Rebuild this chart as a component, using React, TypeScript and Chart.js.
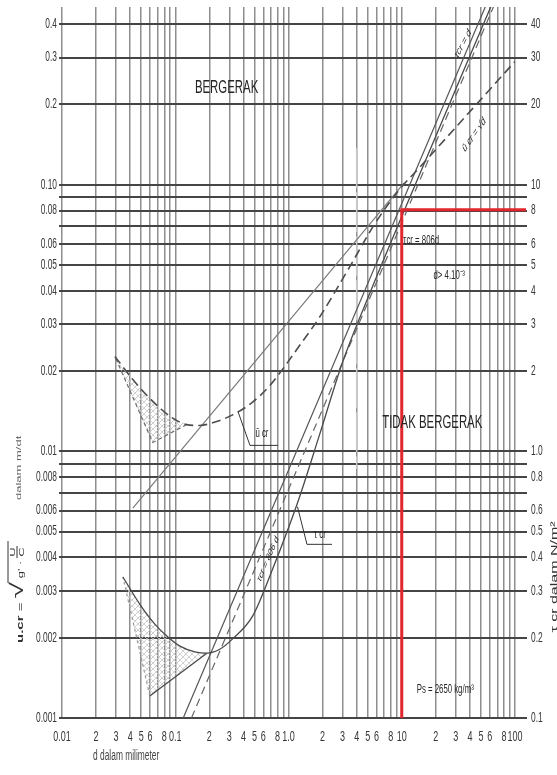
import React, { useEffect, useRef } from "react";
import { Chart, registerables } from "chart.js";
Chart.register(...registerables);

// ---------- axes ----------
const X_MIN = 0.01;
const X_MAX = 100;
const Y_MIN = 0.001; // u*cr in m/s (left axis)
const Y_MAX = 0.464;
const TAU_FACTOR = 100; // right axis (tau cr, N/m2) = left axis x 100 on this chart

const X_TICK_VALUES = [
  0.01, 0.02, 0.03, 0.04, 0.05, 0.06, 0.07, 0.08, 0.09,
  0.1, 0.2, 0.3, 0.4, 0.5, 0.6, 0.7, 0.8, 0.9,
  1, 2, 3, 4, 5, 6, 7, 8, 9,
  10, 20, 30, 40, 50, 60, 70, 80, 90, 100,
];
const X_TICK_LABELS = [
  "0.01", "2", "3", "4", "5", "6", "", "8", "",
  "0.1", "2", "3", "4", "5", "6", "", "8", "",
  "1.0", "2", "3", "4", "5", "6", "", "8", "",
  "10", "2", "3", "4", "5", "6", "", "8", "", "100",
];
const Y_TICK_VALUES = [
  0.001, 0.002, 0.003, 0.004, 0.005, 0.006, 0.007, 0.008, 0.009,
  0.01, 0.02, 0.03, 0.04, 0.05, 0.06, 0.07, 0.08, 0.09,
  0.1, 0.2, 0.3, 0.4,
];
const Y_TICK_LABELS = [
  "0.001", "0.002", "0.003", "0.004", "0.005", "0.006", "", "0.008", "",
  "0.01", "0.02", "0.03", "0.04", "0.05", "0.06", "", "0.08", "",
  "0.10", "0.2", "0.3", "0.4",
];
const YR_TICK_LABELS = [
  "0.1", "0.2", "0.3", "0.4", "0.5", "0.6", "", "0.8", "",
  "1.0", "2", "3", "4", "5", "6", "", "8", "",
  "10", "20", "30", "40",
];

// ---------- u*cr (left axis, m/s) ----------
const U_CURVE_D = [0.0293, 0.0422, 0.0633, 0.0932, 0.126, 0.164, 0.214, 0.321, 0.482, 0.68, 0.885, 1.3, 1.875, 3.44, 5.72, 9.51, 14.3, 100];
const U_CURVE_V = [0.0227, 0.0186, 0.0154, 0.0134, 0.0126, 0.0125, 0.0128, 0.0137, 0.0153, 0.0176, 0.0203, 0.0255, 0.0318, 0.0489, 0.0708, 0.0958, 0.1158, 0.29];
const U_HATCH_D = [0.0293, 0.0422, 0.0633, 0.0932, 0.126, 0.0633, 0.0293];
const U_HATCH_V = [0.0227, 0.0186, 0.0154, 0.0134, 0.0126, 0.0108, 0.0227];
const U_EDGE_D = [0.126, 0.0633, 0.0293];
const U_EDGE_V = [0.0126, 0.0108, 0.0227];
const LINE_A_D = [0.0422, 10.5];
const LINE_A_V = [0.00612, 0.1017];
const U_LEADER_D = [0.358, 0.457, 0.807];
const U_LEADER_V = [0.0141, 0.01053, 0.01053];

// ---------- tau cr (right axis, N/m2) ----------
const TAU_CURVE_D = [0.0345, 0.0487, 0.066, 0.0842, 0.11, 0.149, 0.19, 0.247, 0.321, 0.482, 0.72, 1.2, 1.875, 2.99, 5.2, 10, 65];
const TAU_CURVE_V = [0.338, 0.267, 0.225, 0.203, 0.186, 0.177, 0.175, 0.181, 0.198, 0.241, 0.36, 0.64, 1.15, 2.15, 3.9, 7.6, 49.4];
const TAU_HATCH_D = [0.0345, 0.0487, 0.066, 0.0842, 0.11, 0.149, 0.19, 0.0596, 0.0345];
const TAU_HATCH_V = [0.338, 0.267, 0.225, 0.203, 0.186, 0.177, 0.175, 0.121, 0.338];
const TAU_EDGE_LOW_D = [0.0596, 0.19];
const TAU_EDGE_LOW_V = [0.121, 0.175];
const TAU_EDGE_LEFT_D = [0.0596, 0.0345];
const TAU_EDGE_LEFT_V = [0.121, 0.338];
const TAU_806_D = [0.1176, 60];
const TAU_806_V = [0.1, 51];
const TAU_DASH_D = [0.139, 70];
const TAU_DASH_V = [0.1, 50.4];
const TAU_LEADER_D = [1.2, 1.456, 2.42];
const TAU_LEADER_V = [0.62, 0.448, 0.448];
const RED_D = [10, 10, 125];
const RED_V = [0.1, 8.06, 8.06];
const D4_D = [4, 4];
const D4_V = [0.137, 0.0086];

// ---------- annotations (d in mm, value on left axis) ----------
const NOTE_TEXT = ["BERGERAK", "TIDAK BERGERAK", "\u03C4cr = 806d", "d> 4.10\u207B\u00B3", "Ps = 2650 kg/m\u00B3", "\u03C4cr = d", "\u016B cr = \u221Ad", "\u03C4cr = 806 d", "\u016B cr", "\u03C4 cr"];
const NOTE_D = [0.284, 18.6, 14.86, 26.2, 24.2, 34.7, 43.5, 0.659, 0.583, 1.897];
const NOTE_V = [0.231, 0.01285, 0.0617, 0.0456, 0.001285, 0.3373, 0.1539, 0.00394, 0.01168, 0.00489];
const NOTE_SIZE = [19, 19, 13, 13, 13, 12, 12, 11, 13, 13];
const NOTE_ROT = [0, 0, 0, 0, 0, -62, -55, -67, 0, 0];

const FONT = "'Liberation Sans', Arial, sans-serif";
const SQ = 0.6;
const TICK_COLOR = "#363636";
const TEXT_COLOR = "#262626";

const pts = (xs: number[], ys: number[]) => xs.map((x, i) => ({ x, y: ys[i] }));

function drawText(ctx: CanvasRenderingContext2D, text: string, x: number, y: number, o: any = {}) {
  const size = o.size ?? 13;
  const phi = ((o.rot ?? 0) * Math.PI) / 180;
  ctx.save();
  ctx.translate(x, y);
  ctx.scale(SQ, 1);
  ctx.rotate(Math.atan2(SQ * Math.sin(phi), Math.cos(phi)));
  ctx.font = `${o.weight ?? "normal"} ${size}px ${FONT}`;
  ctx.fillStyle = o.color ?? TEXT_COLOR;
  ctx.textAlign = o.align ?? "center";
  ctx.textBaseline = o.baseline ?? "middle";
  ctx.fillText(text, 0, 0);
  ctx.restore();
}

function textWidth(ctx: CanvasRenderingContext2D, text: string, size: number, weight = "normal") {
  ctx.save();
  ctx.font = `${weight} ${size}px ${FONT}`;
  const w = ctx.measureText(text).width;
  ctx.restore();
  return w;
}

function makeHatch() {
  const c = document.createElement("canvas");
  c.width = 6;
  c.height = 6;
  const g = c.getContext("2d")!;
  g.strokeStyle = "#bdbdbd";
  g.lineWidth = 0.8;
  g.beginPath();
  g.moveTo(0, 6);
  g.lineTo(6, 0);
  g.stroke();
  g.beginPath();
  g.moveTo(0, 0);
  g.lineTo(6, 6);
  g.strokeStyle = "#d0d0d0";
  g.stroke();
  return g.createPattern(c, "repeat");
}

const textPlugin = {
  id: "textPlugin",
  afterDatasetsDraw(chart: any) {
    const { ctx, chartArea, scales } = chart;
    const sx = scales.x;
    const sy = scales.y;
    const sr = scales.yR;
    // tick labels
    sx.ticks.forEach((t: any, i: number) => {
      const lab = X_TICK_LABELS[i];
      if (lab) drawText(ctx, lab, sx.getPixelForValue(t.value), chartArea.bottom + 19, { size: 15, color: TICK_COLOR });
    });
    sy.ticks.forEach((t: any, i: number) => {
      const lab = Y_TICK_LABELS[i];
      if (lab) drawText(ctx, lab, chartArea.left - 5, sy.getPixelForValue(t.value), { size: 14, align: "right", color: TICK_COLOR });
    });
    sr.ticks.forEach((t: any, i: number) => {
      const lab = YR_TICK_LABELS[i];
      if (lab) drawText(ctx, lab, chartArea.right + 16, sr.getPixelForValue(t.value), { size: 14, align: "left", color: TICK_COLOR });
    });
    // notes
    NOTE_TEXT.forEach((t, i) => {
      drawText(ctx, t, sx.getPixelForValue(NOTE_D[i]), sy.getPixelForValue(NOTE_V[i]), { size: NOTE_SIZE[i], rot: NOTE_ROT[i] });
    });
    // x title
    drawText(ctx, "d dalam milimeter", 93, chartArea.bottom + 38, { size: 14, align: "left", color: "#444" });
    // left title (vertical, bottom to top)
    const bx = 23;
    let yy = 643;
    const segs: any[] = [
      { t: "u.cr", s: 15, w: "bold" },
      { t: " = ", s: 15, w: "normal" },
      { t: "\u221A", s: 30, w: "normal" },
      { t: " g' \u00B7 ", s: 13, w: "normal" },
    ];
    let radicalEnd = 0;
    segs.forEach((g) => {
      drawText(ctx, g.t, bx, yy, { size: g.s, weight: g.w, rot: -90, align: "left", baseline: "alphabetic", color: "#333" });
      yy -= textWidth(ctx, g.t, g.s, g.w);
      if (g.t === "\u221A") radicalEnd = yy;
    });
    // fraction U / C
    drawText(ctx, "U", bx - 8, yy - 5, { size: 13, rot: -90, align: "center", baseline: "alphabetic", color: "#333" });
    drawText(ctx, "C", bx + 1, yy - 5, { size: 13, rot: -90, align: "center", baseline: "alphabetic", color: "#333" });
    ctx.save();
    ctx.strokeStyle = "#333";
    ctx.lineWidth = 1;
    ctx.beginPath();
    ctx.moveTo(bx - 6, yy - 11);
    ctx.lineTo(bx - 6, yy + 1);
    ctx.stroke();
    ctx.beginPath();
    ctx.moveTo(bx - 15, radicalEnd + 1);
    ctx.lineTo(bx - 15, yy - 16);
    ctx.stroke();
    ctx.restore();
    drawText(ctx, "dalam m/dt", bx - 2, 500, { size: 13, rot: -90, align: "left", baseline: "alphabetic", color: "#666" });
    // right title
    drawText(ctx, "\u03C4 cr dalam N/m\u00B2", 557, 577, { size: 16, rot: -90, align: "center", baseline: "alphabetic", color: "#333" });
  },
};

export default function App() {
  const ref = useRef<HTMLCanvasElement>(null);
  useEffect(() => {
    const canvas = ref.current!;
    const hatch = makeHatch();
    const line = (data: any[], axis: string, color: string, width: number, dash: number[] = [], extra: any = {}) => ({
      data,
      yAxisID: axis,
      showLine: true,
      borderColor: color,
      borderWidth: width,
      borderDash: dash,
      pointRadius: 0,
      pointHoverRadius: 0,
      fill: false,
      tension: 0,
      ...extra,
    });
    const setTicks = (vals: number[], f = 1) => (s: any) => {
      s.ticks = vals.map((v) => ({ value: v * f }));
    };
    const chart = new Chart(canvas, {
      type: "scatter",
      data: {
        datasets: [
          line(pts(RED_D, RED_V), "yR", "#e3262c", 3, [], { clip: { left: 0, top: 0, right: 14, bottom: 0 } }),
          line(pts(U_LEADER_D, U_LEADER_V), "y", "#333", 1),
          line(pts(TAU_LEADER_D, TAU_LEADER_V), "yR", "#333", 1),
          line(pts(U_CURVE_D, U_CURVE_V), "y", "#4d4d4d", 1.6, [9, 5], { cubicInterpolationMode: "monotone" }),
          line(pts(LINE_A_D, LINE_A_V), "y", "#7a7a7a", 1.2),
          line(pts(TAU_CURVE_D, TAU_CURVE_V), "yR", "#4a4a4a", 1.3, [], { cubicInterpolationMode: "monotone" }),
          line(pts(TAU_806_D, TAU_806_V), "yR", "#555", 1.2),
          line(pts(TAU_DASH_D, TAU_DASH_V), "yR", "#666", 1.2, [8, 5]),
          line(pts(D4_D, D4_V), "y", "#c9c9c9", 1.5, [40, 4]),
          line(pts(U_EDGE_D, U_EDGE_V), "y", "#6a6a6a", 1.2, [4, 3]),
          line(pts(TAU_EDGE_LOW_D, TAU_EDGE_LOW_V), "yR", "#4a4a4a", 1.3),
          line(pts(TAU_EDGE_LEFT_D, TAU_EDGE_LEFT_V), "yR", "#9a9a9a", 1.2, [3, 3]),
          line(pts(U_HATCH_D, U_HATCH_V), "y", "rgba(0,0,0,0)", 0, [], { fill: "shape", backgroundColor: hatch }),
          line(pts(TAU_HATCH_D, TAU_HATCH_V), "yR", "rgba(0,0,0,0)", 0, [], { fill: "shape", backgroundColor: hatch }),
        ],
      },
      options: {
        responsive: false,
        animation: false,
        devicePixelRatio: 1,
        events: [],
        layout: { padding: { top: 7, left: 0, right: 0, bottom: 0 } },
        plugins: { legend: { display: false }, tooltip: { enabled: false }, title: { display: false } },
        scales: {
          x: {
            type: "logarithmic",
            min: X_MIN,
            max: X_MAX,
            afterBuildTicks: setTicks(X_TICK_VALUES),
            afterFit: (s: any) => {
              s.height = 57;
            },
            grid: { color: "#8e8e8e", lineWidth: 1.5, drawTicks: false },
            border: { display: false },
            ticks: { display: false, autoSkip: false },
          },
          y: {
            type: "logarithmic",
            position: "left",
            min: Y_MIN,
            max: Y_MAX,
            afterBuildTicks: setTicks(Y_TICK_VALUES),
            afterFit: (s: any) => {
              s.width = 62;
            },
            grid: { color: "#454545", lineWidth: 2, drawTicks: true, tickLength: 3 },
            border: { display: false },
            ticks: { display: false, autoSkip: false },
          },
          yR: {
            type: "logarithmic",
            position: "right",
            min: Y_MIN * TAU_FACTOR,
            max: Y_MAX * TAU_FACTOR,
            afterBuildTicks: setTicks(Y_TICK_VALUES, TAU_FACTOR),
            afterFit: (s: any) => {
              s.width = 42;
            },
            grid: { drawOnChartArea: false, color: "#454545", lineWidth: 2, drawTicks: true, tickLength: 12 },
            border: { display: false },
            ticks: { display: false, autoSkip: false },
          },
        },
      } as any,
      plugins: [textPlugin],
    });
    return () => chart.destroy();
  }, []);
  return (
    <div style={{ position: "absolute", left: 0, top: 0, width: 557, height: 775, background: "#fff" }}>
      <canvas ref={ref} width={557} height={775} style={{ display: "block", width: 557, height: 775 }} />
    </div>
  );
}
